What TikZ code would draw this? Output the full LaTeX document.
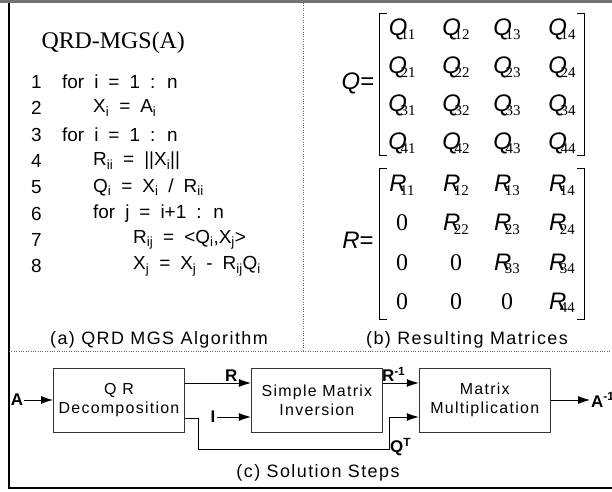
\documentclass[tikz,border=0pt]{standalone}
\usepackage{fontspec}
\setmainfont{Liberation Sans}
\newfontfamily\timesfont{Liberation Serif}
\newfontfamily\spacedfont[LetterSpace=8]{Liberation Sans}
\newfontfamily\codefont[WordSpace=1.9]{Liberation Sans}
\usetikzlibrary{positioning,arrows.meta}

% entry of a matrix: sans italic letter, serif index tucked under it
\newcommand{\mentry}[2]{{\itshape #1}\kern-6.5bp\raisebox{-3.5bp}{\timesfont\fontsize{15}{15}\selectfont #2}}

\begin{document}
\begin{tikzpicture}[x=1bp,y=-1bp,
	node distance=36bp,
	block/.style={draw=black!80,line width=0.9bp,minimum width=131bp,minimum height=64bp,align=center,inner sep=2pt,font=\spacedfont\fontsize{16}{19}\selectfont},
	sig/.style={inner sep=1pt,font=\bfseries\fontsize{17}{17}\selectfont},
	flow/.style={-{Latex[length=12bp,width=8bp]},line width=0.9bp},
	caption/.style={font=\spacedfont\fontsize{18}{18}\selectfont},
	codeline/.style={anchor=west,inner sep=0pt,font=\codefont\fontsize{19}{19}\selectfont},
	entry/.style={anchor=base,inner sep=0pt,font=\fontsize{24}{24}\selectfont},
	bracket/.style={line width=0.8bp}
	]
	\useasboundingbox (0,0) rectangle (612,492);
	\fill[black!55] (0,0) rectangle (612,3);
	\draw[line width=1.2bp] (9,3) -- (9,488) -- (612,488);
	\draw[dotted,black!60] (9,351) -- (612,351);
	\draw[dotted,black!60] (303,3) -- (303,351);

	% (a) the algorithm
	\node[anchor=west,font=\timesfont\fontsize{24}{24}\selectfont] (title) at (38,43) {QRD-MGS(A)};
	\foreach \n/\x/\txt in {
		1/62/{for i = 1 : n},
		2/93/{X\textsubscript{i} = A\textsubscript{i}},
		3/62/{for i = 1 : n},
		4/93/{R\textsubscript{ii} = ||X\textsubscript{i}||},
		5/93/{Q\textsubscript{i} = X\textsubscript{i} / R\textsubscript{ii}},
		6/93/{for j = i+1 : n},
		7/133/{R\textsubscript{ij} = <Q\textsubscript{i},X\textsubscript{j}>},
		8/133/{X\textsubscript{j} = X\textsubscript{j} - R\textsubscript{ij}Q\textsubscript{i}}}
	{
		\node[codeline] (num\n) at (31,{82+26.3*(\n-1)}) {\n};
		\node[codeline] (line\n) at (\x,{82+26.3*(\n-1)}) {\txt};
	}
	\node[caption] (capa) at (159,340) {(a) QRD MGS Algorithm};

	% (b) the matrices
	\node[entry] (Qname) at (358,90) {{\itshape Q}=};
	\node[entry] (Rname) at (358,248) {{\itshape R}=};
	\foreach \r in {1,...,4}
		\foreach \c/\x in {1/402,2/456,3/507,4/562}
		{
			\node[entry] (q\r\c) at (\x,{36+38*(\r-1)}) {\mentry{Q}{\r\c}};
			\ifnum\c<\r
				\node[entry] (r\r\c) at (\x,{192+39*(\r-1)}) {\timesfont 0};
			\else
				\node[entry] (r\r\c) at (\x,{192+39*(\r-1)}) {\mentry{R}{\r\c}};
			\fi
		}
	\draw[bracket] (387,13) -- (379,13) -- (379,155) -- (387,155);
	\draw[bracket] (577,13) -- (584,13) -- (584,155) -- (577,155);
	\draw[bracket] (387,168) -- (379,168) -- (379,319) -- (387,319);
	\draw[bracket] (577,168) -- (584,168) -- (584,319) -- (577,319);
	\node[caption] (capb) at (467,340) {(b) Resulting Matrices};

	% (c) the steps
	\node[block] (qrd) at (119,400) {Q R\\Decomposition};
	\node[block,right=66bp of qrd] (inv) {Simple Matrix\\Inversion};
	\node[block,right=of inv] (mult) {Matrix\\Multiplication};
	\node[sig] (A) at (17,400) {A};
	\node[sig] (I) at (213,417) {I};
	\node[sig,anchor=west] (Ainv) at (590,400) {A\textsuperscript{-1}};
	\coordinate (qt) at (389,449);
	\draw[flow] (A) -- (qrd);
	\draw[flow] ([yshift=17bp]qrd.east) -- node[sig,above,pos=0.7] (lblR) {R} ([yshift=17bp]inv.west);
	\draw[flow] (I) -- (I -| inv.west);
	\draw[flow] ([yshift=17bp]inv.east) -- node[sig,above,pos=0.3] (lblRinv) {R\textsuperscript{-1}} ([yshift=17bp]mult.west);
	\draw[flow] ([yshift=-18bp]qrd.east) -- ++(13,0) |- (qt) |- ([yshift=-17bp]mult.west);
	\node[sig,anchor=west] (lblQ) at ([yshift=2bp]qt) {Q\textsuperscript{T}};
	\draw[flow] (mult) -- (Ainv);
	\node[caption] (capc) at (318,473) {(c) Solution Steps};
\end{tikzpicture}
\end{document}
